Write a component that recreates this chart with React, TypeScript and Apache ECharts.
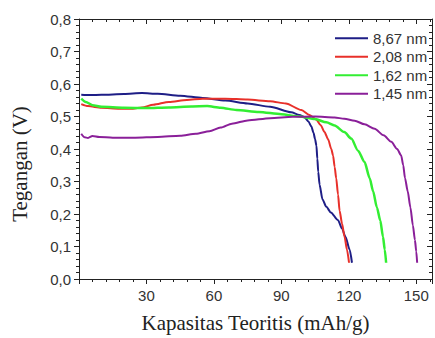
import React, { useEffect, useRef } from "react";
import * as echarts from "echarts";

const seriesNames = ["8,67 nm", "2,08 nm", "1,62 nm", "1,45 nm"];
const seriesColors = ["#1e1e86", "#e8302a", "#33ee33", "#8a1f99"];

const blue: number[][] = [
  [1, 0.567], [5, 0.566], [10, 0.567], [20, 0.569], [28, 0.572], [35, 0.57], [45, 0.564],
  [55, 0.557], [65, 0.549], [75, 0.54], [85, 0.53], [94.4, 0.513], [98, 0.505], [100.4, 0.497],
  [102, 0.485], [103.3, 0.47], [104.3, 0.45], [105, 0.43], [105.6, 0.41], [106, 0.37],
  [106.4, 0.33], [107, 0.29], [108.3, 0.245], [110, 0.222], [112, 0.205], [115.2, 0.181],
  [117, 0.155], [118.5, 0.13], [120.4, 0.09], [121.4, 0.05],
];

const red: number[][] = [
  [1, 0.538], [4, 0.532], [10, 0.527], [18, 0.524], [24, 0.524], [28, 0.528], [33, 0.536],
  [40, 0.545], [48, 0.551], [55, 0.555], [65, 0.555], [75, 0.552], [85, 0.547], [92, 0.54],
  [98.9, 0.52], [102.5, 0.505], [105.6, 0.49], [107.5, 0.473], [109.2, 0.452], [110.8, 0.43],
  [112.2, 0.4], [113, 0.38], [113.7, 0.345], [114.4, 0.31], [115.2, 0.26], [115.9, 0.21],
  [117, 0.17], [118.1, 0.13], [119.2, 0.09], [120.1, 0.05],
];

const green: number[][] = [
  [1, 0.555], [3, 0.545], [6, 0.535], [10, 0.53], [20, 0.527], [30, 0.526], [40, 0.528],
  [50, 0.531], [57, 0.532], [63, 0.527], [70, 0.52], [80, 0.514], [90, 0.507], [98, 0.5],
  [105, 0.492], [110, 0.482], [113.7, 0.472], [118, 0.452], [121.1, 0.432], [124.1, 0.395],
  [127, 0.36], [129.3, 0.31], [130.8, 0.27], [132.5, 0.22], [134, 0.18], [135.2, 0.13],
  [136, 0.09], [136.6, 0.05],
];

const purple: number[][] = [
  [1, 0.447], [2.5, 0.436], [4, 0.434], [6, 0.44], [9, 0.437], [15, 0.435], [25, 0.435],
  [35, 0.437], [45, 0.441], [52, 0.447], [58, 0.455], [63, 0.466], [68, 0.478], [75, 0.488],
  [85, 0.495], [95, 0.499], [105, 0.5], [113.7, 0.497], [118, 0.493], [122.6, 0.487],
  [127, 0.476], [131.5, 0.462], [135.5, 0.442], [138.9, 0.422], [141.5, 0.4], [143.3, 0.38],
  [144.2, 0.35], [145, 0.31], [146.2, 0.27], [147.4, 0.22], [148.5, 0.165], [149.4, 0.12],
  [150, 0.085], [150.4, 0.05],
];

const allData = [blue, red, green, purple];

const xMin = 0;
const xMax = 157;
const xInterval = 30;
const yMin = 0;
const yMax = 0.8;
const yInterval = 0.1;

const xTitle = "Kapasitas Teoritis (mAh/g)";
const yTitle = "Tegangan (V)";

const fmtY = (v: number) => v.toFixed(1).replace(".", ",");

export default function App() {
  const ref = useRef<HTMLDivElement>(null);
  useEffect(() => {
    if (!ref.current) return;
    const chart = echarts.init(ref.current, undefined, { renderer: "svg" });
    const axisColor = "#222";
    const serif = "Liberation Serif, Times New Roman, serif";
    const labelStyle = { color: "#333", fontSize: 15, fontFamily: "Liberation Sans, Arial, sans-serif" };
    const baseX = {
      type: "value" as const,
      min: xMin,
      max: xMax,
      interval: xInterval,
      splitLine: { show: false },
      axisLine: { show: true, onZero: false, lineStyle: { color: axisColor, width: 1 } },
    };
    const baseY = {
      type: "value" as const,
      min: yMin,
      max: yMax,
      interval: yInterval,
      splitLine: { show: false },
      axisLine: { show: true, onZero: false, lineStyle: { color: axisColor, width: 1 } },
    };
    chart.setOption({
      animation: false,
      backgroundColor: "#fff",
      grid: { left: 79, right: 3, top: 19, bottom: 56, containLabel: false },
      legend: {
        orient: "vertical",
        left: 330,
        top: 25,
        icon: "rect",
        itemWidth: 33,
        itemHeight: 2,
        itemGap: 2,
        textStyle: { ...labelStyle, lineHeight: 16.5, color: "#333" },
        data: seriesNames,
      },
      graphic: [
        {
          type: "text",
          x: 20,
          y: 164,
          rotation: Math.PI / 2,
          style: {
            text: yTitle,
            fontFamily: serif,
            fontSize: 21,
            fill: "#222",
            textAlign: "center",
            textVerticalAlign: "middle",
          },
        },
      ],
      xAxis: [
        {
          ...baseX,
          position: "bottom",
          axisTick: { show: true, inside: false, length: 5, lineStyle: { color: axisColor } },
          minorTick: { show: true, splitNumber: 5, length: 3, lineStyle: { color: axisColor } },
          axisLabel: { ...labelStyle, margin: 9, showMinLabel: false, showMaxLabel: false },
          name: xTitle,
          nameLocation: "middle",
          nameGap: 33,
          nameTextStyle: { fontFamily: serif, fontSize: 21, color: "#222" },
        },
        {
          ...baseX,
          position: "top",
          axisTick: { show: true, inside: true, length: 5, lineStyle: { color: axisColor } },
          minorTick: { show: true, splitNumber: 5, length: 3, lineStyle: { color: axisColor } },
          axisLabel: { show: false },
        },
      ],
      yAxis: [
        {
          ...baseY,
          position: "left",
          axisTick: { show: true, inside: false, length: 5, lineStyle: { color: axisColor } },
          minorTick: { show: true, splitNumber: 5, length: 3, lineStyle: { color: axisColor } },
          axisLabel: { ...labelStyle, margin: 8, formatter: fmtY },
        },
        {
          ...baseY,
          position: "right",
          axisTick: { show: true, inside: true, length: 5, lineStyle: { color: axisColor } },
          minorTick: { show: true, splitNumber: 5, length: 3, lineStyle: { color: axisColor } },
          axisLabel: { show: false },
        },
      ],
      series: allData.map((d, i) => ({
        name: seriesNames[i],
        type: "line",
        xAxisIndex: 0,
        yAxisIndex: 0,
        data: d,
        showSymbol: false,
        symbol: "none",
        smooth: 0.25,
        smoothMonotone: "x",
        color: seriesColors[i],
        lineStyle: { color: seriesColors[i], width: i === 2 ? 2.5 : 2 },
      })),
    });
    return () => chart.dispose();
  }, []);
  return (
    <div
      ref={ref}
      style={{ position: "fixed", left: 0, top: 0, width: 435, height: 338 }}
    />
  );
}
